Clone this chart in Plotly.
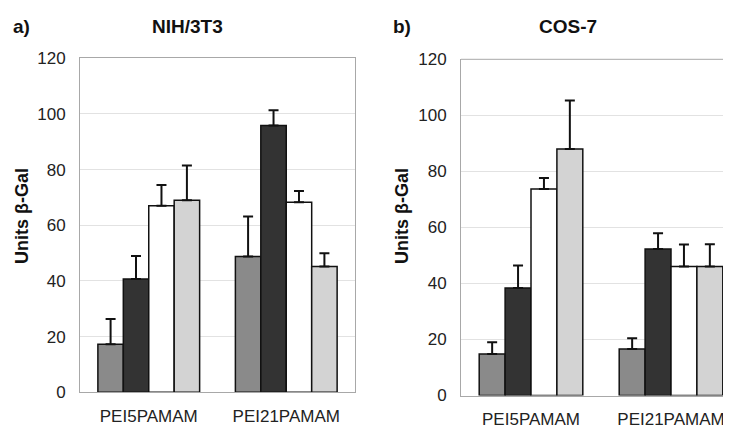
import plotly.graph_objects as go

categories = ["PEI5PAMAM", "PEI21PAMAM"]
series_names = ["s1", "s2", "s3", "s4"]
colors = ["#8a8a8a", "#333333", "#ffffff", "#d3d3d3"]

# NIH/3T3 panel
nih_values = [[17.3, 48.8], [40.7, 95.9], [67.0, 68.3], [69.0, 45.2]]
nih_errors = [[9.0, 14.4], [8.3, 5.4], [7.5, 4.0], [12.5, 4.8]]
# COS-7 panel
cos_values = [[14.8, 16.6], [38.4, 52.3], [73.7, 46.0], [88.0, 46.0]]
cos_errors = [[4.2, 3.8], [8.0, 5.6], [3.9, 7.9], [17.3, 8.0]]

y_ticks = [0, 20, 40, 60, 80, 100, 120]

W, H = 731, 428
OFF = 8  # page body margin offset


def px(x):
    return (x - OFF) / W


def py(y):
    return (H - (y - OFF)) / H


fig = go.Figure()

for i in range(4):
    fig.add_trace(go.Bar(
        x=categories, y=nih_values[i], name=series_names[i],
        marker=dict(color=colors[i], line=dict(color="#111111", width=1.5)),
        error_y=dict(type="data", array=nih_errors[i], symmetric=False,
                     arrayminus=[0, 0], color="#111111", thickness=2, width=5),
        xaxis="x", yaxis="y", showlegend=False))
for i in range(4):
    fig.add_trace(go.Bar(
        x=categories, y=cos_values[i], name=series_names[i],
        marker=dict(color=colors[i], line=dict(color="#111111", width=1.5)),
        error_y=dict(type="data", array=cos_errors[i], symmetric=False,
                     arrayminus=[0, 0], color="#111111", thickness=2, width=5),
        xaxis="x2", yaxis="y2", showlegend=False))

font = "Liberation Sans, Arial, sans-serif"
axis_common = dict(showgrid=False, zeroline=False, ticks="", linecolor="#a8a8a8",
                   linewidth=1, automargin=False,
                   tickfont=dict(family=font, size=17, color="#222222"))
yaxis_common = dict(range=[0, 120], tickvals=y_ticks, showgrid=True, gridcolor="#e2e2e2",
                    gridwidth=1, zeroline=False, ticks="", linecolor="#a8a8a8", linewidth=1,
                    automargin=False,
                    tickfont=dict(family=font, size=17, color="#222222"), ticklabelstandoff=10)

right_x0 = 461
right_end = -0.5 + ((W + OFF) - right_x0) / 140.0

fig.update_layout(
    width=W, height=H,
    margin=dict(l=0, r=0, t=0, b=0, autoexpand=False),
    paper_bgcolor="white", plot_bgcolor="white",
    barmode="group", bargap=0.26, bargroupgap=0,
    xaxis=dict(domain=[px(80), px(355)], range=[-0.5, 1.5], showline=True, mirror=True,
               anchor="y", ticklabelstandoff=8, **axis_common),
    yaxis=dict(domain=[py(392.3), py(58.3)], showline=True, mirror=True,
               anchor="x", **yaxis_common),
    xaxis2=dict(domain=[px(right_x0), 1.0], range=[-0.5, right_end], showline=True,
                mirror=False, anchor="y2", ticklabelstandoff=8, **axis_common),
    yaxis2=dict(domain=[py(395.5), py(59.3)], showline=True, mirror=False,
                anchor="x2", **yaxis_common),
)

# top border of right panel
fig.add_shape(type="line", xref="x2 domain", yref="y2 domain", x0=0, x1=1, y0=1, y1=1,
              line=dict(color="#a8a8a8", width=1))

ann_font = dict(family=font, size=19, color="#111111")
annotations = [
    dict(text="<b>a)</b>", x=px(21), y=py(27)),
    dict(text="<b>NIH/3T3</b>", x=px(187), y=py(27)),
    dict(text="<b>b)</b>", x=px(402), y=py(27)),
    dict(text="<b>COS-7</b>", x=px(568), y=py(27)),
]
for a in annotations:
    fig.add_annotation(xref="paper", yref="paper", showarrow=False, xanchor="center",
                       yanchor="middle", font=ann_font, **a)

for xp in [22, 402]:
    fig.add_annotation(xref="paper", yref="paper", x=px(xp), y=py(216),
                       text="<b>Units β-Gal</b>", textangle=-90, showarrow=False,
                       xanchor="center", yanchor="middle",
                       font=dict(family=font, size=18, color="#111111"))

fig.write_html("out.html")
